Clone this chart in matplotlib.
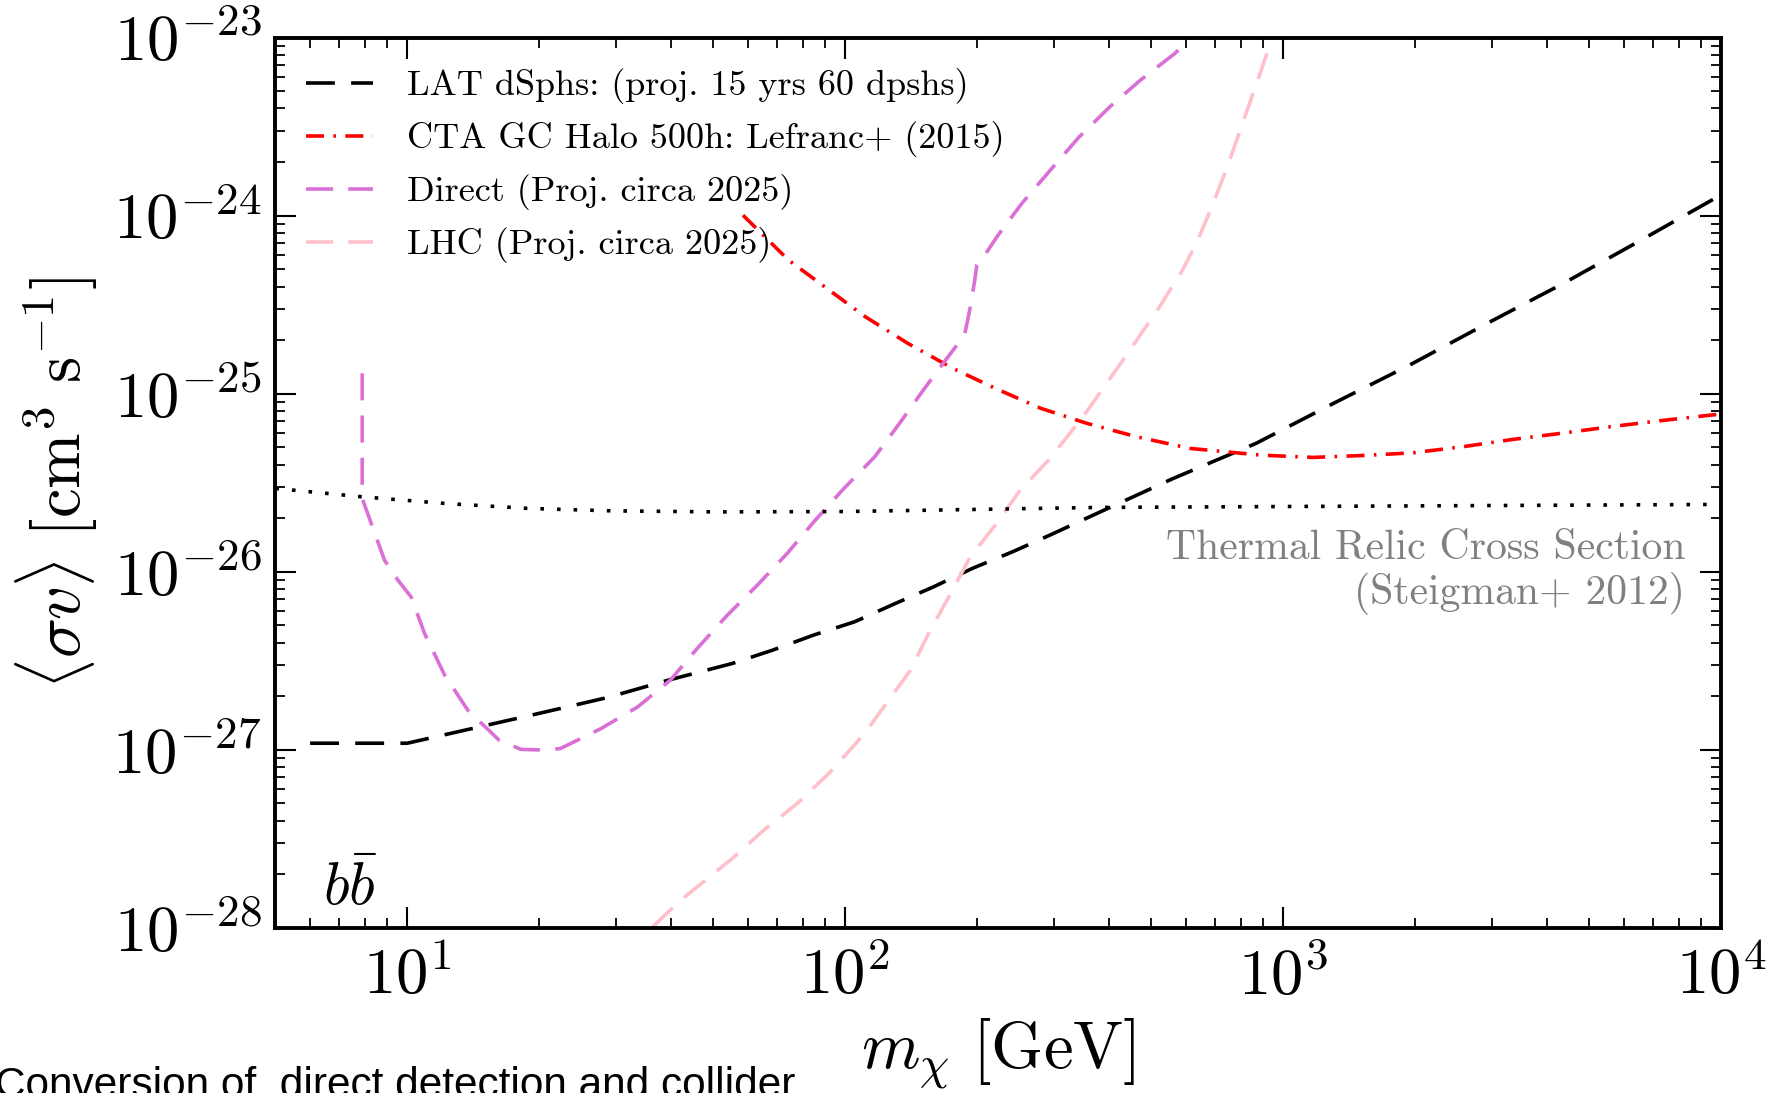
import matplotlib
matplotlib.use('Agg')
import matplotlib.pyplot as plt
from matplotlib import font_manager
from matplotlib.ticker import FuncFormatter, LogLocator, NullFormatter
import numpy as np

plt.rcParams['font.family'] = 'serif'
plt.rcParams['font.serif'] = ['cmr10']
plt.rcParams['mathtext.fontset'] = 'cm'
plt.rcParams['axes.unicode_minus'] = False
plt.rcParams['axes.formatter.use_mathtext'] = True

# LAT dSphs projection (15 yrs, 60 dSphs)
lat_mass = [6.0, 10, 19.7, 28.7, 39.6, 55.3, 68.2, 84.6, 105, 129, 159, 195, 241, 293,
            368, 560, 866, 1301, 1943, 2917, 4355, 6462, 10000]
lat_sv = [1.09e-27, 1.09e-27, 1.59e-27, 1.97e-27, 2.47e-27, 3.06e-27, 3.63e-27, 4.41e-27,
          5.24e-27, 6.58e-27, 8.23e-27, 1.045e-26, 1.296e-26, 1.606e-26, 2.08e-26, 3.34e-26,
          5.26e-26, 8.82e-26, 1.449e-25, 2.48e-25, 4.16e-25, 7.14e-25, 1.31e-24]

# CTA GC halo 500h (Lefranc+ 2015)
cta_mass = [58.4, 74.2, 111, 139, 176, 220, 280, 356, 463, 613, 891, 1170, 1520, 1978,
            2570, 3341, 4300, 5592, 7265, 10000]
cta_sv = [1.006e-24, 5.63e-25, 2.71e-25, 1.917e-25, 1.389e-25, 1.072e-25, 8.27e-26, 6.82e-26,
          5.73e-26, 4.93e-26, 4.52e-26, 4.39e-26, 4.50e-26, 4.66e-26, 5.04e-26, 5.54e-26,
          5.99e-26, 6.53e-26, 7.06e-26, 7.70e-26]

# direct detection projection
dd_mass = [7.89, 7.89, 8.87, 9.52, 10.2, 10.95, 12.17, 13.75, 16.2, 18.2, 20.9, 22.4, 27.7,
           33.6, 39.9, 45.9, 53.8, 63.0, 73.7, 84.8, 99.3, 116.7, 133, 151.7, 172.9, 187.2,
           193, 197, 199.7, 207, 222, 253, 294, 342, 402, 427, 472, 566, 607, 650]
dd_sv = [1.303e-25, 2.585e-26, 1.164e-26, 8.98e-27, 7.24e-27, 4.51e-27, 2.63e-27, 1.67e-27,
         1.135e-27, 1.006e-27, 9.97e-28, 1.019e-27, 1.318e-27, 1.745e-27, 2.47e-27, 3.71e-27,
         5.71e-27, 8.42e-27, 1.269e-26, 1.911e-26, 2.94e-26, 4.42e-26, 6.82e-26, 1.072e-25,
         1.65e-25, 2.135e-25, 3.08e-25, 4.17e-25, 5.28e-25, 5.88e-25, 7.62e-25, 1.172e-24,
         1.804e-24, 2.77e-24, 4.09e-24, 4.66e-24, 5.77e-24, 8.16e-24, 9.69e-24, 1.3e-23]

# LHC projection
lhc_mass = [31, 42.1, 55.2, 65.2, 77.7, 91.7, 106.5, 114.2, 122.5, 141, 155, 172.4, 193, 220,
            251, 291.5, 349, 436, 522, 589, 638, 692, 750, 812, 880, 935, 980]
lhc_sv = [7.0e-29, 1.432e-28, 2.455e-28, 3.55e-28, 5.0e-28, 7.37e-28, 1.11e-27, 1.376e-27,
          1.745e-27, 2.81e-27, 4.51e-27, 7.24e-27, 1.214e-26, 1.828e-26, 2.88e-26, 4.25e-26,
          7.43e-26, 1.614e-25, 3.08e-25, 4.95e-25, 7.30e-25, 1.172e-24, 1.966e-24, 3.44e-24,
          6.03e-24, 9.28e-24, 1.4e-23]

# thermal relic (Steigman+ 2012)
th_mass = [5, 7.85, 12.2, 18.9, 29.2, 51.1, 100, 382, 10000]
th_sv = [2.94e-26, 2.64e-26, 2.42e-26, 2.27e-26, 2.20e-26, 2.17e-26, 2.18e-26, 2.30e-26, 2.39e-26]

fig = plt.figure(figsize=(17.85, 10.93), dpi=100)
ax = fig.add_axes([0.1543, 0.151, 0.81, 0.8146])

lw = 2.6
ax.plot(lat_mass, lat_sv, color='black', lw=lw, dashes=(8, 4.5),
        label='LAT dSphs: (proj. 15 yrs 60 dpshs)')
ax.plot(cta_mass, cta_sv, color='red', lw=lw, dashes=(5, 2.6, 0.7, 2.6),
        label='CTA GC Halo 500h: Lefranc+ (2015)')
ax.plot(dd_mass, dd_sv, color='orchid', lw=lw, dashes=(7.5, 4.2),
        label='Direct (Proj. circa 2025)')
ax.plot(lhc_mass, lhc_sv, color='pink', lw=lw, dashes=(7.5, 4.2),
        label='LHC (Proj. circa 2025)')
ax.plot(th_mass, th_sv, color='black', lw=lw, dashes=(1, 3.6))

ax.set_xscale('log')
ax.set_yscale('log')
ax.set_xlim(5, 1e4)
ax.set_ylim(1e-28, 1e-23)

fmt = FuncFormatter(lambda v, p: r'$10^{%d}$' % round(np.log10(v)))
ax.xaxis.set_major_formatter(fmt)
ax.yaxis.set_major_formatter(fmt)
ax.xaxis.set_minor_locator(LogLocator(base=10, subs=np.arange(2, 10)))
ax.yaxis.set_minor_locator(LogLocator(base=10, subs=np.arange(2, 10)))
ax.xaxis.set_minor_formatter(NullFormatter())
ax.yaxis.set_minor_formatter(NullFormatter())

ax.tick_params(which='both', direction='in', top=True, right=True)
ax.tick_params(which='major', length=15, width=1.5, labelsize=46.5)
ax.tick_params(axis='x', which='major', pad=14)
ax.tick_params(axis='y', which='major', pad=10)
ax.tick_params(which='minor', length=7, width=1.3)
for s in ax.spines.values():
    s.set_linewidth(2.8)

ax.set_xlabel(r'$m_\chi\ [\mathrm{GeV}]$', fontsize=48, labelpad=6)
ax.set_ylabel(r'$\langle\sigma v\rangle\ [\mathrm{cm}^3\ \mathrm{s}^{-1}]$', fontsize=48, labelpad=9)

ax.legend(loc='upper left', frameon=False, fontsize=26, handlelength=1.85,
          handletextpad=0.95, labelspacing=0.47, borderaxespad=0.45)

ax.text(0.975, 0.447, 'Thermal Relic Cross Section\n(Steigman+ 2012)', transform=ax.transAxes,
        ha='right', va='top', color='gray', fontsize=30, linespacing=1.15)
ax.text(0.033, 0.012, r'$b\bar{b}$', transform=ax.transAxes, fontsize=43, ha='left', va='bottom')

names = {f.name for f in font_manager.fontManager.ttflist}
sans = 'Liberation Sans Narrow' if 'Liberation Sans Narrow' in names else 'Liberation Sans'
fig.text(-0.003, 1 - 1097 / 1093, 'Conversion of  direct detection and collider',
         family=sans, fontsize=30.5, ha='left', va='baseline')

fig.savefig('out.png', dpi=100)
